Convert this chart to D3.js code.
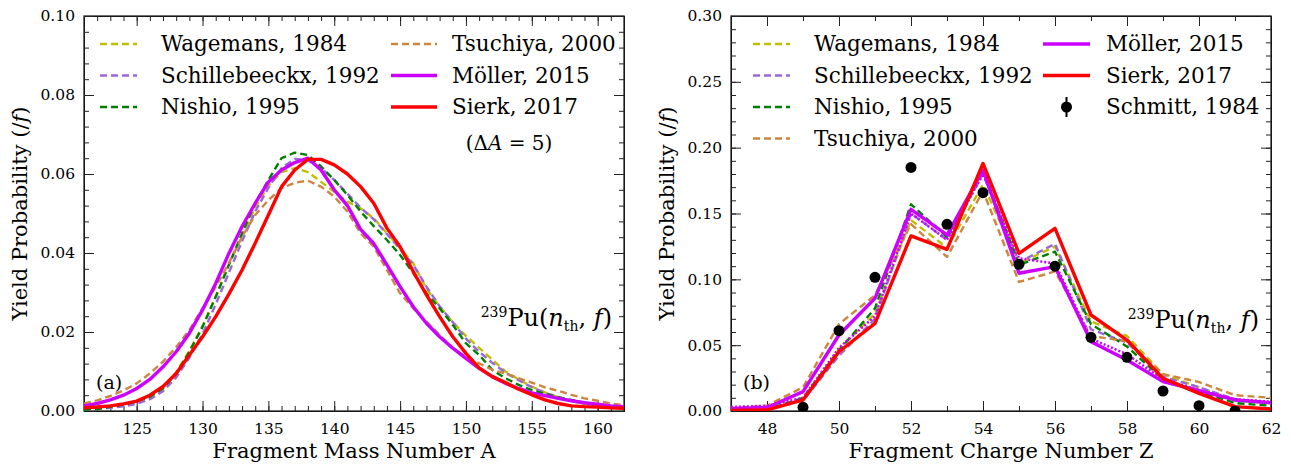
<!DOCTYPE html>
<html>
<head>
<meta charset="utf-8">
<title>Pu-239 fission yields</title>
<script src="https://cdn.jsdelivr.net/npm/d3@7"></script>
<style>
  body { margin: 0; background: #fff; }
  text { font-family: "DejaVu Serif", "Liberation Serif", serif; fill: #000; }
</style>
</head>
<body>
<script>
// --- data, panel (a): mass yields vs A
const massA = [121,122,123,124,125,126,127,128,129,130,131,132,133,134,135,136,137,138,139,140,141,
  142,143,144,145,146,147,148,149,150,151,152,153,154,155,156,157,158,159,160,161,162];
const wagemansA = [0.0004,0.0006,0.0010,0.0016,0.0024,0.0038,0.0060,0.0098,0.0152,0.0215,0.0290,
  0.0370,0.0445,0.0515,0.0570,0.0605,0.0615,0.0605,0.0580,0.0555,0.0530,0.0513,0.0488,0.0450,0.0412,
  0.0374,0.0310,0.0265,0.0225,0.0190,0.0160,0.0130,0.0100,0.0080,0.0062,0.0047,0.0035,0.0025,0.0018,
  0.0012,0.0009,0.0007];
const schilleA = [0.0003,0.0005,0.0008,0.0012,0.0018,0.0030,0.0050,0.0085,0.0135,0.0195,0.0270,
  0.0350,0.0430,0.0505,0.0565,0.0615,0.0638,0.0635,0.0615,0.0585,0.0550,0.0515,0.0485,0.0448,0.0410,
  0.0370,0.0315,0.0265,0.0225,0.0183,0.0150,0.0122,0.0097,0.0078,0.0060,0.0046,0.0035,0.0026,0.0019,
  0.0014,0.0010,0.0008];
const nishioA = [0.0003,0.0005,0.0011,0.0016,0.0024,0.0036,0.0057,0.0095,0.0150,0.0213,0.0289,
  0.0370,0.0450,0.0526,0.0585,0.0640,0.0654,0.0648,0.0619,0.0585,0.0547,0.0505,0.0468,0.0433,0.0395,
  0.0349,0.0298,0.0260,0.0218,0.0171,0.0142,0.0104,0.0083,0.0066,0.0053,0.0043,0.0035,0.0028,0.0021,
  0.0016,0.0012,0.0010];
const tsuchiyaA = [0.0019,0.0027,0.0038,0.0052,0.0070,0.0095,0.0125,0.0162,0.0205,0.0260,0.0315,
  0.0374,0.0441,0.0496,0.0534,0.0564,0.0578,0.0583,0.0568,0.0543,0.0505,0.0450,0.0416,0.0357,0.0298,
  0.0260,0.0226,0.0192,0.0159,0.0137,0.0121,0.0104,0.0095,0.0083,0.0072,0.0060,0.0051,0.0041,0.0032,
  0.0026,0.0019,0.0015];
const mollerA = [0.0013,0.0019,0.0028,0.0040,0.0057,0.0080,0.0112,0.0150,0.0197,0.0256,0.0323,
  0.0399,0.0467,0.0526,0.0580,0.0610,0.0629,0.0640,0.0610,0.0560,0.0520,0.0460,0.0424,0.0370,0.0315,
  0.0264,0.0222,0.0188,0.0159,0.0133,0.0108,0.0087,0.0070,0.0057,0.0046,0.0039,0.0032,0.0026,0.0021,
  0.0017,0.0013,0.0011];
const sierkA = [0.0008,0.0010,0.0013,0.0018,0.0025,0.0040,0.0062,0.0095,0.0142,0.0188,0.0239,
  0.0296,0.0357,0.0425,0.0496,0.0568,0.0610,0.0637,0.0637,0.0623,0.0600,0.0568,0.0526,0.0463,0.0416,
  0.0353,0.0294,0.0239,0.0188,0.0146,0.0109,0.0087,0.0072,0.0055,0.0041,0.0028,0.0019,0.0013,0.0011,
  0.0010,0.0008,0.0007];

// --- data, panel (b): charge yields vs Z
const chargeZ = [47,48,49,50,51,52,53,54,55,56,57,58,59,60,61,62];
const wagemansZ = [0.0005,0.0010,0.0090,0.0470,0.0740,0.1450,0.1240,0.1720,0.1120,0.1250,0.0680,0.0570,0.0280,0.0180,0.0080,0.0060];
const schilleZ = [0.0005,0.0010,0.0080,0.0420,0.0700,0.1500,0.1300,0.1800,0.1130,0.1270,0.0620,0.0520,0.0260,0.0180,0.0090,0.0060];
const nishioZ = [0.0005,0.0010,0.0100,0.0460,0.0780,0.1570,0.1320,0.1830,0.1110,0.1210,0.0660,0.0490,0.0240,0.0150,0.0060,0.0040];
const tsuchiyaZ = [0.0020,0.0040,0.0180,0.0660,0.0880,0.1420,0.1170,0.1670,0.0980,0.1060,0.0570,0.0530,0.0280,0.0220,0.0120,0.0100];
const mollerZ = [0.0020,0.0025,0.0147,0.0577,0.0856,0.1532,0.1337,0.1830,0.1046,0.1096,0.0527,0.0387,0.0223,0.0154,0.0084,0.0063];
const mollerDotZ = [0.0030,0.0040,0.0100,0.0480,0.0720,0.1500,0.1300,0.1800,0.1160,0.1120,0.0550,0.0430,0.0240,0.0160,0.0090,0.0070];
const sierkZ = [0.0005,0.0008,0.0084,0.0450,0.0666,0.1330,0.1228,0.1880,0.1197,0.1387,0.0729,0.0539,0.0248,0.0134,0.0033,0.0015];
const schmittZ = [49,50,51,52,53,54,55,56,57,58,59,60,61];
const schmittY = [0.0028,0.0610,0.1015,0.1850,0.1418,0.1658,0.1114,0.1100,0.0560,0.0408,0.0152,0.0040,0.0000];

// tick labels
const ticksA = [125,130,135,140,145,150,155,160];
const ticksZ = [48,50,52,54,56,58,60,62];
const yTicksA = [0.00,0.02,0.04,0.06,0.08,0.10];
const yTicksZ = [0.00,0.05,0.10,0.15,0.20,0.25,0.30];

const colors = {
  wagemans: "#bfbf00", schille: "#9966dd", nishio: "#008000",
  tsuchiya: "#cd853f", moller: "#cc00ff", sierk: "#ff0000"
};

const W = 1291, H = 464;
const svg = d3.select("body").append("svg").attr("width", W).attr("height", H);

function panel(opt) {
  const x = d3.scaleLinear().domain(opt.xDomain).range([opt.left, opt.right]);
  const y = d3.scaleLinear().domain(opt.yDomain).range([opt.bottom, opt.top]);
  const g = svg.append("g");

  const clipId = "clip" + opt.name;
  svg.append("clipPath").attr("id", clipId).append("rect")
    .attr("x", opt.left).attr("y", opt.top)
    .attr("width", opt.right - opt.left).attr("height", opt.bottom - opt.top);

  // axes with inward ticks, minor first
  const minorX = d3.range(opt.xDomain[0], opt.xDomain[1] + 0.001, opt.xMinor);
  const minorY = d3.range(opt.yDomain[0], opt.yDomain[1] + 1e-9, opt.yMinor);
  const axes = [
    [d3.axisBottom(x), "translate(0," + opt.bottom + ")", minorX, opt.xTicks],
    [d3.axisTop(x), "translate(0," + opt.top + ")", minorX, opt.xTicks],
    [d3.axisLeft(y), "translate(" + opt.left + ",0)", minorY, opt.yTicks],
    [d3.axisRight(y), "translate(" + opt.right + ",0)", minorY, opt.yTicks]
  ];
  axes.forEach(function (a, i) {
    g.append("g").attr("transform", a[1])
      .call(a[0].tickValues(a[2]).tickSize(-5).tickFormat(""));
    const ax = g.append("g").attr("transform", a[1])
      .call(a[0].tickValues(a[3]).tickSize(-10).tickPadding(i == 0 ? 12 : 9)
        .tickFormat(i == 0 ? d3.format("d") : (i == 2 ? d3.format(".2f") : "")));
    ax.select(".domain").remove();
  });
  g.selectAll(".tick line").attr("stroke", "#222").attr("stroke-width", 1);
  g.selectAll(".tick text").attr("font-size", 15.5).attr("fill", "#000");

  g.append("rect").attr("x", opt.left).attr("y", opt.top)
    .attr("width", opt.right - opt.left).attr("height", opt.bottom - opt.top)
    .attr("fill", "none").attr("stroke", "#222").attr("stroke-width", 1.3);

  const line = d3.line().x(function (d) { return x(d[0]); }).y(function (d) { return y(d[1]); });
  const plot = g.append("g").attr("clip-path", "url(#" + clipId + ")");
  opt.series.forEach(function (s) {
    plot.append("path")
      .datum(opt.xs.map(function (v, i) { return [v, s.values[i]]; }))
      .attr("d", line)
      .attr("fill", "none")
      .attr("stroke", s.color)
      .attr("stroke-width", s.width)
      .attr("stroke-dasharray", s.dash || null)
      .attr("stroke-linejoin", "round");
  });
  if (opt.points) {
    plot.selectAll("circle").data(opt.points).enter().append("circle")
      .attr("cx", function (d) { return x(d[0]); })
      .attr("cy", function (d) { return y(d[1]); })
      .attr("r", 5.5).attr("fill", "#000");
  }

  // axis titles
  g.append("text").attr("x", (opt.left + opt.right) / 2).attr("y", 458)
    .attr("text-anchor", "middle").attr("font-size", 21).text(opt.xLabel);
  const yl = g.append("text")
    .attr("transform", "translate(" + (opt.left - 57) + "," + ((opt.top + opt.bottom) / 2) + ") rotate(-90)")
    .attr("text-anchor", "middle").attr("font-size", 21);
  yl.append("tspan").text("Yield Probability (/");
  yl.append("tspan").attr("font-style", "italic").text("f");
  yl.append("tspan").text(")");

  // panel tag
  g.append("text").attr("x", opt.left + 12).attr("y", 389).attr("font-size", 19).text(opt.tag);

  // reaction label
  const r = g.append("text").attr("x", opt.right - 12).attr("y", opt.reactY)
    .attr("text-anchor", "end").attr("font-size", 24);
  r.append("tspan").attr("font-size", 14).attr("dy", -9).text("239");
  r.append("tspan").attr("dy", 9).text("Pu(");
  r.append("tspan").attr("font-style", "italic").text("n");
  r.append("tspan").attr("font-size", 14).attr("dy", 5).text("th");
  r.append("tspan").attr("dy", -5).text(", ");
  r.append("tspan").attr("font-style", "italic").text("f");
  r.append("tspan").text(")");

  // legend
  opt.legend.forEach(function (e) {
    const cy = e.y - 7;
    if (e.marker) {
      g.append("line").attr("x1", e.x1 + (e.x2 - e.x1) / 2).attr("x2", e.x1 + (e.x2 - e.x1) / 2)
        .attr("y1", cy - 10).attr("y2", cy + 10).attr("stroke", "#000").attr("stroke-width", 2);
      g.append("circle").attr("cx", e.x1 + (e.x2 - e.x1) / 2).attr("cy", cy).attr("r", 5.5).attr("fill", "#000");
    } else {
      g.append("line").attr("x1", e.x1).attr("x2", e.x2).attr("y1", cy).attr("y2", cy)
        .attr("stroke", e.color).attr("stroke-width", e.width).attr("stroke-dasharray", e.dash || null);
    }
    g.append("text").attr("x", e.tx).attr("y", e.y).attr("font-size", 21.5).text(e.label);
  });
  return g;
}

const dash = "7,4";
const gA = panel({
  name: "a", left: 84, right: 624, top: 16, bottom: 411,
  xDomain: [121, 162], yDomain: [0, 0.10], xMinor: 1, yMinor: 0.004,
  xTicks: ticksA, yTicks: yTicksA, xs: massA,
  xLabel: "Fragment Mass Number A", tag: "(a)", reactY: 326,
  series: [
    { values: wagemansA, color: colors.wagemans, width: 2.4, dash: dash },
    { values: schilleA, color: colors.schille, width: 2.4, dash: dash },
    { values: nishioA, color: colors.nishio, width: 2.4, dash: dash },
    { values: tsuchiyaA, color: colors.tsuchiya, width: 2.4, dash: dash },
    { values: mollerA, color: colors.moller, width: 3.4 },
    { values: sierkA, color: colors.sierk, width: 3.4 }
  ],
  legend: [
    { x1: 100, x2: 137, tx: 161, y: 51, color: colors.wagemans, width: 2.4, dash: dash, label: "Wagemans, 1984" },
    { x1: 100, x2: 137, tx: 161, y: 82.5, color: colors.schille, width: 2.4, dash: dash, label: "Schillebeeckx, 1992" },
    { x1: 100, x2: 137, tx: 161, y: 114, color: colors.nishio, width: 2.4, dash: dash, label: "Nishio, 1995" },
    { x1: 391, x2: 437, tx: 452, y: 51, color: colors.tsuchiya, width: 2.4, dash: dash, label: "Tsuchiya, 2000" },
    { x1: 391, x2: 437, tx: 452, y: 82.5, color: colors.moller, width: 3.4, label: "Möller, 2015" },
    { x1: 391, x2: 437, tx: 452, y: 114, color: colors.sierk, width: 3.4, label: "Sierk, 2017" }
  ]
});
const dA = gA.append("text").attr("x", 509).attr("y", 150).attr("text-anchor", "middle").attr("font-size", 20);
dA.append("tspan").text("(Δ");
dA.append("tspan").attr("font-style", "italic").text("A");
dA.append("tspan").text(" = 5)");

panel({
  name: "b", left: 731, right: 1271, top: 16, bottom: 411,
  xDomain: [47, 62], yDomain: [0, 0.30], xMinor: 1, yMinor: 0.01,
  xTicks: ticksZ, yTicks: yTicksZ, xs: chargeZ,
  xLabel: "Fragment Charge Number Z", tag: "(b)", reactY: 328,
  series: [
    { values: wagemansZ, color: colors.wagemans, width: 2.4, dash: dash },
    { values: schilleZ, color: colors.schille, width: 2.4, dash: dash },
    { values: nishioZ, color: colors.nishio, width: 2.4, dash: dash },
    { values: tsuchiyaZ, color: colors.tsuchiya, width: 2.4, dash: dash },
    { values: mollerDotZ, color: colors.moller, width: 2.5, dash: "2,2" },
    { values: mollerZ, color: colors.moller, width: 3.4 },
    { values: sierkZ, color: colors.sierk, width: 3.4 }
  ],
  points: schmittZ.map(function (z, i) { return [z, schmittY[i]]; }),
  legend: [
    { x1: 753, x2: 790, tx: 814, y: 51, color: colors.wagemans, width: 2.4, dash: dash, label: "Wagemans, 1984" },
    { x1: 753, x2: 790, tx: 814, y: 82.5, color: colors.schille, width: 2.4, dash: dash, label: "Schillebeeckx, 1992" },
    { x1: 753, x2: 790, tx: 814, y: 114, color: colors.nishio, width: 2.4, dash: dash, label: "Nishio, 1995" },
    { x1: 753, x2: 790, tx: 814, y: 145.5, color: colors.tsuchiya, width: 2.4, dash: dash, label: "Tsuchiya, 2000" },
    { x1: 1043, x2: 1090, tx: 1106, y: 51, color: colors.moller, width: 3.4, label: "Möller, 2015" },
    { x1: 1043, x2: 1090, tx: 1106, y: 82.5, color: colors.sierk, width: 3.4, label: "Sierk, 2017" },
    { x1: 1043, x2: 1090, tx: 1106, y: 114, marker: true, label: "Schmitt, 1984" }
  ]
});
</script>
</body>
</html>
